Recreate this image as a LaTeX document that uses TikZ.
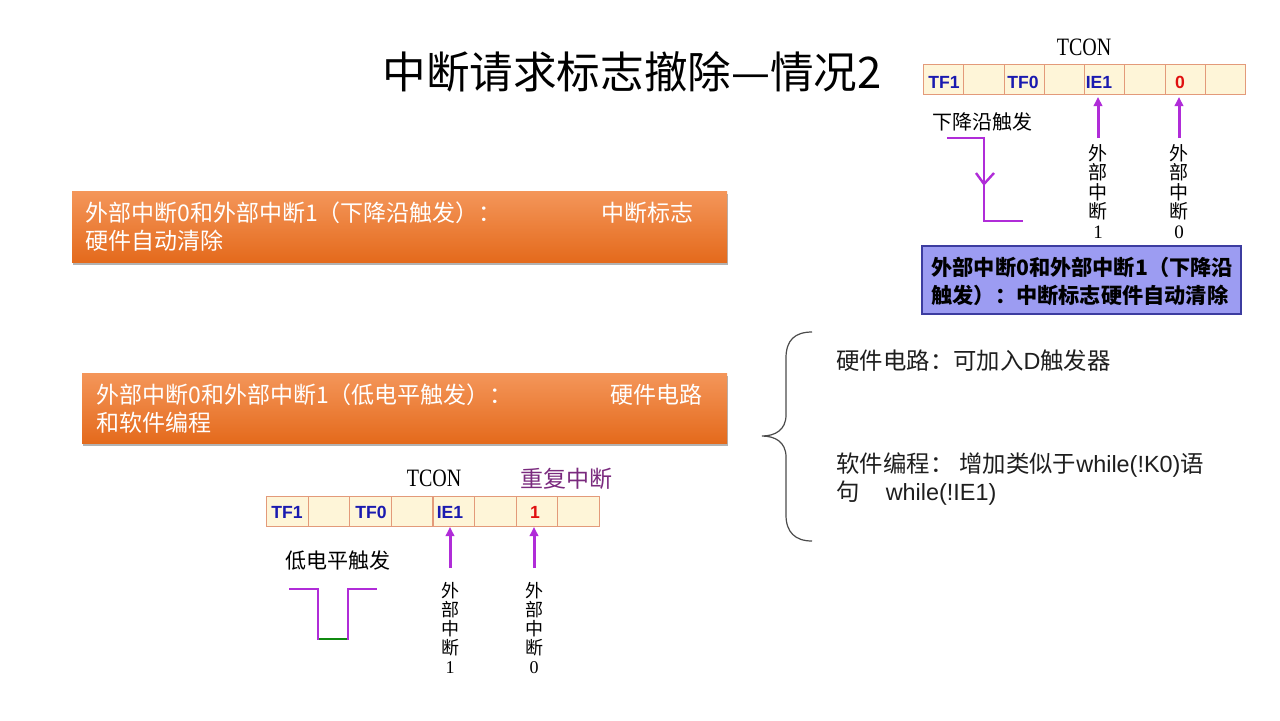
\documentclass[tikz,border=0pt]{standalone}
\usepackage{fontspec}
\setmainfont{Liberation Sans}
\newfontfamily\cjk{Noto Sans CJK SC}
\newfontfamily\serifnum{Liberation Serif}
\usetikzlibrary{arrows.meta,shadows}
\definecolor{otop}{HTML}{F4965A}
\definecolor{obot}{HTML}{E46A1C}
\definecolor{regfill}{HTML}{FEF5D8}
\definecolor{regedge}{HTML}{E39A7A}
\definecolor{regblue}{HTML}{1A1AB0}
\definecolor{regred}{HTML}{E01010}
\definecolor{purp}{HTML}{B02CD8}
\definecolor{purptext}{HTML}{7A2A7E}
\definecolor{bluefill}{HTML}{9C9CF2}
\definecolor{blueedge}{HTML}{3C3CA0}
\definecolor{wgreen}{HTML}{108A10}
\definecolor{txt}{HTML}{1E1E1E}
\tikzset{
  obox/.style={rectangle, inner sep=0, top color=otop, bottom color=obot, draw=none,
    drop shadow={shadow xshift=0.6pt, shadow yshift=-1.4pt, opacity=0.3, fill=black}},
  otext/.style={anchor=west, inner sep=0, text=white, font=\cjk\fontsize{11.5}{13}\selectfont},
  rtext/.style={anchor=west, inner sep=0, text=txt, font=\fontsize{11.7}{13}\selectfont},
  btext/.style={anchor=west, inner sep=0, text=black, font=\cjk\bfseries\fontsize{10.6}{12}\selectfont},
  regcell/.style={rectangle, draw=regedge, fill=regfill, line width=0.6pt, anchor=north west, inner sep=0},
  reglab/.style={inner sep=0, text=regblue, font=\bfseries\fontsize{8.8}{10}\selectfont},
  regnum/.style={inner sep=0, text=regred, font=\bfseries\fontsize{8.8}{10}\selectfont},
  tconlab/.style={inner sep=0, text=black, font=\serifnum\fontsize{12.5}{14}\selectfont},
  vtext/.style={anchor=north, align=center, inner sep=0, text=black},
  parrow/.style={draw=purp, line width=1.5pt, -{Triangle[length=4.5pt,width=4.2pt]}},
  wave/.style={draw=purp, line width=1.2pt},
  smalltext/.style={inner sep=0, text=black, font=\cjk\fontsize{10}{12}\selectfont},
}
\begin{document}
\begin{tikzpicture}[x=0.5pt,y=-0.5pt]
\useasboundingbox (0,0) rectangle (1280,720);

% title
\node[anchor=west, inner sep=0, text=black, font=\cjk\fontsize{21.8}{25}\selectfont] (title) at (382,72) {中断请求标志撤除—情况2};

% orange boxes
\node[obox, minimum width=327.5pt, minimum height=35.5pt] (ob1) at (399.5,226.5) {};
\node[otext] (ob1a) at (85,213) {外部中断0和外部中断1（下降沿触发）：};
\node[otext] (ob1b) at (601,213) {中断标志};
\node[otext] (ob1c) at (85,241) {硬件自动清除};

\node[obox, minimum width=322.5pt, minimum height=35pt] (ob2) at (404.5,408) {};
\node[otext] (ob2a) at (96,395) {外部中断0和外部中断1（低电平触发）：};
\node[otext] (ob2b) at (610,395) {硬件电路};
\node[otext] (ob2c) at (96,423) {和软件编程};

% brace
\draw[draw=txt!80, line width=0.6pt] (812,332) .. controls (795,332) and (786,340) .. (786,358) -- (786,415) .. controls (786,430) and (775,436) .. (762,436) .. controls (775,436) and (786,442) .. (786,457) -- (786,515) .. controls (786,532) and (795,541) .. (812,541);

\node[rtext] (r1) at (836,361) {{\cjk 硬件电路：可加入}D{\cjk 触发器}};
\node[rtext] (r2) at (836,465) {{\cjk 软件编程：\hspace{3pt}增加类似于}while(!K0){\cjk 语}};
\node[rtext] (r3) at (836,493) {{\cjk 句}\hspace{13pt}while(!IE1)};

% ---------- top-right register ----------
\node[tconlab] (tcon1) at (1084,47) {\scalebox{0.8}[1]{TCON}};
\foreach \i in {0,...,7}
  \node[regcell, minimum width=20.125pt, minimum height=15pt] (ta\i) at ({923+\i*40.25},64) {};
\node[reglab] (tl1) at (944,82) {TF1};
\node[reglab] (tl2) at (1023,82) {TF0};
\node[reglab] (tl3) at (1099,82) {IE1};
\node[regnum] (tl4) at (1180,82) {0};

\node[smalltext, anchor=west] (fall) at (932,122) {下降沿触发};
\draw[wave] (947,138) -- (984,138) -- (984,221) -- (1023,221);
\draw[wave] (976,173) -- (984,184) -- (994,173);

\coordinate (a1s) at (1098,138);
\coordinate (a1e) at (1098,97);
\coordinate (a2s) at (1179,138);
\coordinate (a2e) at (1179,97);
\draw[parrow] (a1s) -- (a1e);
\draw[parrow] (a2s) -- (a2e);
\node[vtext, font=\cjk\fontsize{9.5}{9.75}\selectfont] (v1) at (1098,144) {外\\部\\中\\断\\{\serifnum 1}};
\node[vtext, font=\cjk\fontsize{9.5}{9.75}\selectfont] (v2) at (1179,144) {外\\部\\中\\断\\{\serifnum 0}};

\node[rectangle, draw=blueedge, fill=bluefill, line width=1pt, minimum width=159.5pt, minimum height=34pt, inner sep=0] (bb) at (1081.5,280) {};
\node[btext] (bb1) at (931,267) {外部中断0和外部中断1（下降沿};
\node[btext] (bb2) at (931,295) {触发）：中断标志硬件自动清除};

% ---------- bottom register ----------
\node[tconlab] (tcon2) at (434,478) {\scalebox{0.8}[1]{TCON}};
\node[inner sep=0, text=purptext, font=\cjk\fontsize{11.5}{13}\selectfont] (rep) at (566,479) {重复中断};
\foreach \i in {0,...,7}
  \node[regcell, minimum width=20.8pt, minimum height=15pt] (tb\i) at ({266+\i*41.6},496) {};
\node[reglab] (bl1) at (287,512) {TF1};
\node[reglab] (bl2) at (371,512) {TF0};
\node[reglab] (bl3) at (450,512) {IE1};
\node[regnum] (bl4) at (535,512) {1};

\node[smalltext, font=\cjk\fontsize{10.5}{12}\selectfont] (low) at (338,561) {低电平触发};
\draw[wave] (289,589) -- (318,589) -- (318,639) -- (348,639) -- (348,589) -- (377,589);
\draw[draw=wgreen, line width=1.4pt] (319,639) -- (347,639);

\coordinate (b1s) at (450,568);
\coordinate (b1e) at (450,527);
\coordinate (b2s) at (534,568);
\coordinate (b2e) at (534,527);
\draw[parrow] (b1s) -- (b1e);
\draw[parrow] (b2s) -- (b2e);
\node[vtext, font=\cjk\fontsize{9}{9.5}\selectfont] (v3) at (450,582) {外\\部\\中\\断\\{\serifnum 1}};
\node[vtext, font=\cjk\fontsize{9}{9.5}\selectfont] (v4) at (534,582) {外\\部\\中\\断\\{\serifnum 0}};
\end{tikzpicture}
\end{document}
